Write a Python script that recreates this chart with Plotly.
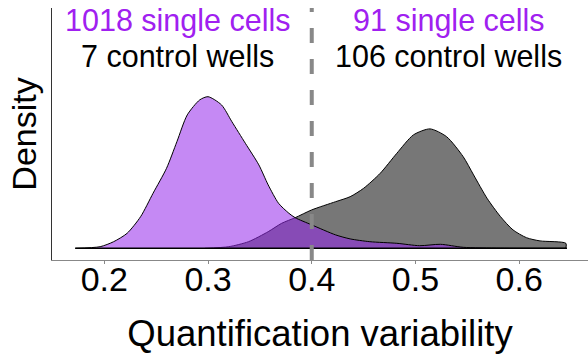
import plotly.graph_objects as go

# Density curve of single cells (purple)
sc_x = [0.172, 0.196, 0.209, 0.222, 0.235, 0.247, 0.260, 0.270, 0.280, 0.292, 0.300,
        0.313, 0.323, 0.336, 0.349, 0.358, 0.368, 0.378, 0.384, 0.400, 0.423, 0.437,
        0.456, 0.482, 0.504, 0.524, 0.546, 0.582, 0.646]
sc_y = [0.0, 0.08, 0.33, 0.75, 1.58, 2.75, 4.0, 5.33, 6.67, 7.42, 7.58,
        7.17, 6.33, 5.25, 4.17, 3.17, 2.25, 1.75, 1.53, 1.17, 0.67, 0.47,
        0.33, 0.25, 0.13, 0.20, 0.05, 0.01, 0.0]

# Density curve of control wells (gray)
cw_x = [0.297, 0.320, 0.339, 0.358, 0.371, 0.384, 0.400, 0.423, 0.437, 0.450, 0.466,
        0.482, 0.498, 0.514, 0.530, 0.546, 0.556, 0.569, 0.582, 0.594, 0.607, 0.620,
        0.645, 0.645]
cw_y = [0.0, 0.08, 0.33, 0.83, 1.25, 1.53, 1.92, 2.33, 2.58, 3.0, 3.75,
        4.75, 5.67, 5.97, 5.58, 4.58, 3.67, 2.5, 1.58, 0.92, 0.53, 0.37,
        0.25, 0.0]

threshold = 0.4
tick_vals = [0.2, 0.3, 0.4, 0.5, 0.6]
tick_text = ["0.2", "0.3", "0.4", "0.5", "0.6"]
left_labels = ["1018 single cells", "7 control wells"]
right_labels = ["91 single cells", "106 control wells"]
label_x = [0.271, 0.532]
label_y = [11.38, 9.62]

PURPLE = "#A020F0"
FONT = "Liberation Sans"

fig = go.Figure()
fig.add_trace(go.Scatter(x=cw_x, y=cw_y, mode="lines", fill="tozeroy",
                         fillcolor="#777777",
                         line=dict(color="black", width=1, shape="spline", smoothing=0.7),
                         hoverinfo="skip", showlegend=False))
fig.add_trace(go.Scatter(x=sc_x, y=sc_y, mode="lines", fill="tozeroy",
                         fillcolor="rgba(150,40,235,0.55)",
                         line=dict(color="black", width=1, shape="spline", smoothing=0.7),
                         hoverinfo="skip", showlegend=False))
# baseline outline of the density polygons
fig.add_trace(go.Scatter(x=[sc_x[0], sc_x[-1]], y=[0, 0], mode="lines",
                         line=dict(color="black", width=1.5),
                         hoverinfo="skip", showlegend=False))

fig.add_shape(type="line", xref="x", yref="paper", x0=threshold, x1=threshold, y0=0, y1=1,
              line=dict(color="#888888", width=4, dash="15px,16px"), layer="above")

colors = [PURPLE, "black"]
for i in range(2):
    fig.add_annotation(x=label_x[0], y=label_y[i], text=left_labels[i], showarrow=False,
                       xref="x", yref="y", font=dict(size=30.5, color=colors[i], family=FONT),
                       xanchor="center", yanchor="middle")
    fig.add_annotation(x=label_x[1], y=label_y[i], text=right_labels[i], showarrow=False,
                       xref="x", yref="y", font=dict(size=30.5, color=colors[i], family=FONT),
                       xanchor="center", yanchor="middle")

fig.update_layout(
    width=588, height=354,
    margin=dict(l=52, r=0, t=8, b=94),
    paper_bgcolor="white", plot_bgcolor="white",
    font=dict(family=FONT, color="black"),
)
fig.update_xaxes(range=[0.1496, 0.6663], tickvals=tick_vals, ticktext=tick_text,
                 showgrid=False, zeroline=False, showline=True, linecolor="#888888", linewidth=1,
                 ticks="outside", ticklen=3, tickcolor="#888888", tickwidth=1,
                 ticklabelstandoff=-14,
                 tickfont=dict(size=34, color="black", family=FONT),
                 title=dict(text="Quantification variability", font=dict(size=36.5, family=FONT),
                            standoff=23))
fig.update_yaxes(range=[-0.585, 12.015], showticklabels=False, ticks="",
                 showgrid=False, zeroline=False, showline=True, linecolor="#333333", linewidth=1,
                 title=dict(text="Density", font=dict(size=34, family=FONT), standoff=4))

fig.write_html("out.html")
